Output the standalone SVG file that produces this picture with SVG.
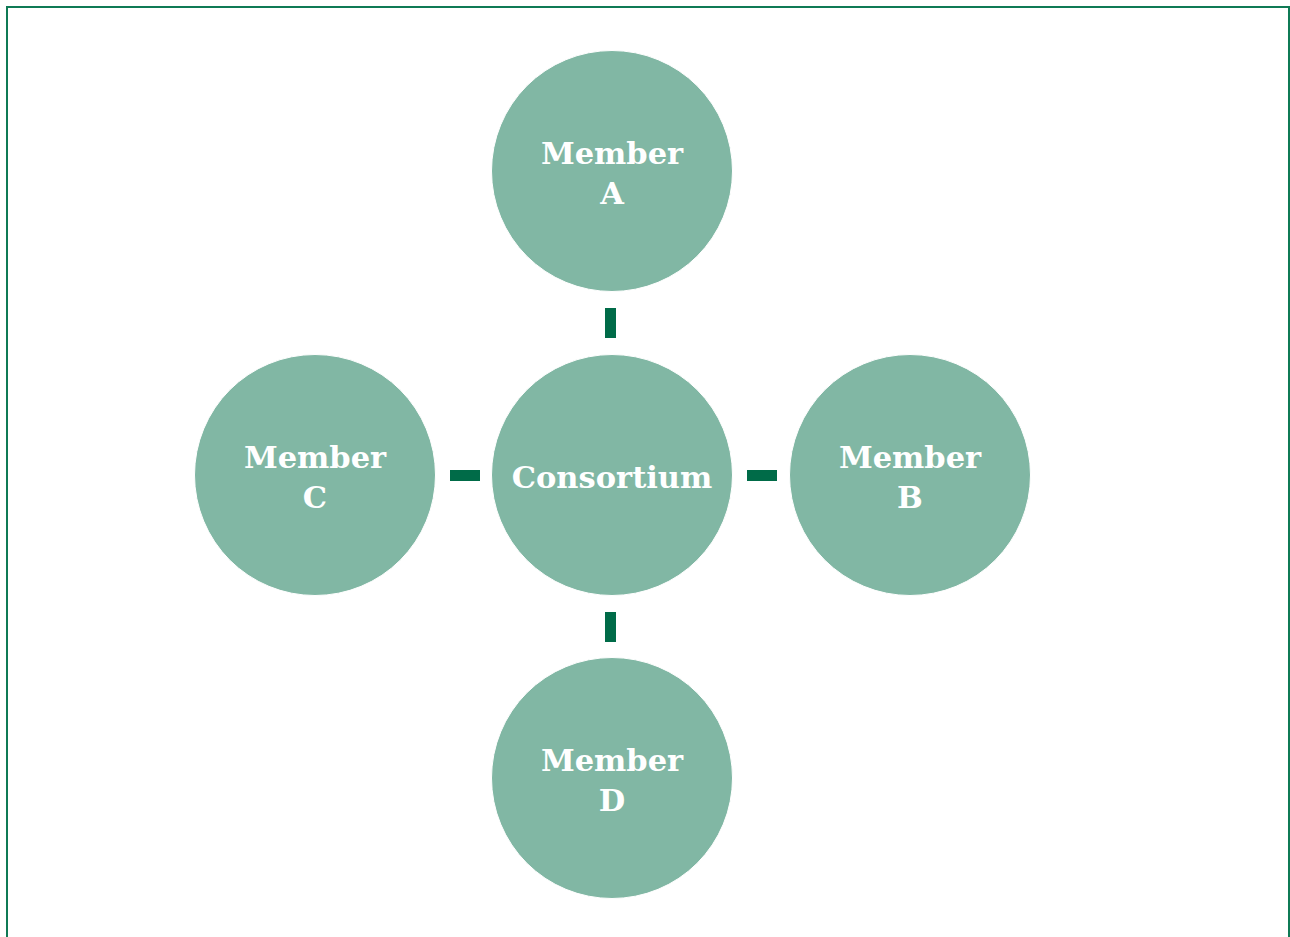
<svg xmlns="http://www.w3.org/2000/svg" width="1290" height="937" viewBox="0 0 1290 937">
<style>
.node circle{fill:#81b7a4;stroke:#ffffff;stroke-width:1}
.node text{fill:#ffffff;font-family:"DejaVu Serif","Liberation Serif",serif;font-weight:bold;font-size:30.5px;text-anchor:middle}
.conn rect{fill:#006b48}
</style>
<rect x="7" y="7" width="1282" height="940" fill="#ffffff" stroke="#0f7a55" stroke-width="2"/>
<g id="connectors" class="conn">
<rect x="605" y="308" width="11" height="30"/>
<rect x="605" y="612" width="11" height="30"/>
<rect x="450" y="470" width="30" height="11"/>
<rect x="747" y="470" width="30" height="11"/>
</g>
<g id="consortium" class="node"><circle cx="612" cy="475" r="120.5"/><text x="612" y="488">Consortium</text></g>
<g id="memberA" class="node"><circle cx="612" cy="171" r="120.5"/><text x="612" y="164">Member</text><text x="612" y="204">A</text></g>
<g id="memberB" class="node"><circle cx="910" cy="475" r="120.5"/><text x="910" y="468">Member</text><text x="910" y="508">B</text></g>
<g id="memberC" class="node"><circle cx="315" cy="475" r="120.5"/><text x="315" y="468">Member</text><text x="315" y="508">C</text></g>
<g id="memberD" class="node"><circle cx="612" cy="778" r="120.5"/><text x="612" y="771">Member</text><text x="612" y="811">D</text></g>
</svg>
